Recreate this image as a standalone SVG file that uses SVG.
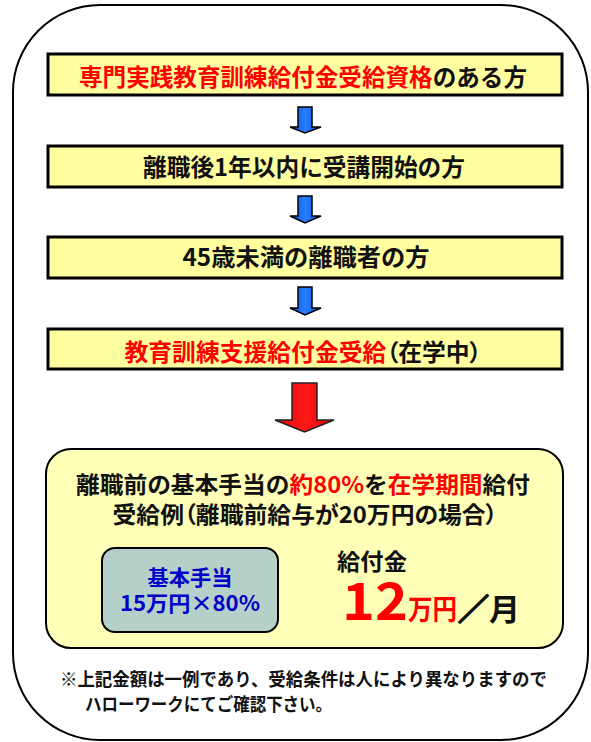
<svg xmlns="http://www.w3.org/2000/svg" width="591" height="742" viewBox="0 0 591 742">
<defs>
<style>
text{font-family:"Noto Sans CJK JP","Noto Sans CJK SC",sans-serif;font-weight:bold;fill:#111;}
.r{fill:#ff0000;}
.b{fill:#0000c8;}
.p{font-feature-settings:"palt";}
.step{fill:#ffffa0;stroke:#000;stroke-width:3;}
.barrow{fill:url(#bg);stroke:#000;stroke-width:1.5;stroke-linejoin:miter;}
.rarrow{fill:url(#rg);stroke:#222;stroke-width:1.5;}
</style>
<linearGradient id="bg" x1="0" y1="0" x2="1" y2="0">
<stop offset="0" stop-color="#0050e8"/><stop offset="0.5" stop-color="#2a7dff"/><stop offset="1" stop-color="#0050e8"/>
</linearGradient>
<linearGradient id="rg" x1="0" y1="0" x2="1" y2="0">
<stop offset="0" stop-color="#e00000"/><stop offset="0.5" stop-color="#ff1a1a"/><stop offset="1" stop-color="#e00000"/>
</linearGradient>
</defs>
<rect id="frame" x="13" y="5" width="575" height="735" rx="87" ry="87" fill="#fff" stroke="#000" stroke-width="2"/>
<g id="connectors">
<polygon class="barrow" points="298,107 312,107 312,127 321,127 305,133 290,127 298,127"/>
<polygon class="barrow" points="298,196 312,196 312,216 321,216 305,223 290,216 298,216"/>
<polygon class="barrow" points="298,287 312,287 312,308 321,308 305,315 290,308 298,308"/>
<polygon class="rarrow" points="292,383 317,383 317,420 334,420 304.5,432 275,420 292,420"/>
</g>
<g id="step1">
<rect class="step" x="48" y="54" width="514" height="41"/>
<text x="303" y="86" font-size="23.5" text-anchor="middle" textLength="448" lengthAdjust="spacingAndGlyphs"><tspan class="r">専門実践教育訓練給付金受給資格</tspan>のある方</text>
</g>
<g id="step2">
<rect class="step" x="48" y="146" width="514" height="41"/>
<text x="304" y="176" font-size="23.5" text-anchor="middle" textLength="322" lengthAdjust="spacingAndGlyphs">離職後1年以内に受講開始の方</text>
</g>
<g id="step3">
<rect class="step" x="48" y="237" width="514" height="41"/>
<text x="306" y="266" font-size="23.5" text-anchor="middle" textLength="247" lengthAdjust="spacingAndGlyphs">45歳未満の離職者の方</text>
</g>
<g id="step4">
<rect class="step" x="48" y="329" width="514" height="40"/>
<text class="p" x="303" y="361" font-size="23.5" text-anchor="middle" textLength="357" lengthAdjust="spacingAndGlyphs"><tspan class="r">教育訓練支援給付金受給</tspan>（在学中）</text>
</g>
<g id="result">
<rect x="46" y="449" width="517" height="199" rx="25" ry="25" fill="#ffffb8" stroke="#000" stroke-width="2"/>
<text x="303" y="493" font-size="23" text-anchor="middle" textLength="454" lengthAdjust="spacingAndGlyphs">離職前の基本手当の<tspan class="r">約80%</tspan>を<tspan class="r">在学期間</tspan>給付</text>
<text class="p" x="305" y="523" font-size="23" text-anchor="middle" textLength="385" lengthAdjust="spacingAndGlyphs">受給例（離職前給与が20万円の場合）</text>
<text x="337" y="570" font-size="23" textLength="70" lengthAdjust="spacingAndGlyphs">給付金</text>
<text x="342" y="620" font-size="52" class="r" textLength="66" lengthAdjust="spacingAndGlyphs">12</text>
<text x="408" y="620" font-size="28" class="r" textLength="49" lengthAdjust="spacingAndGlyphs">万円</text>
<text x="458" y="620" font-size="30" textLength="62" lengthAdjust="spacingAndGlyphs"><tspan stroke="#111" stroke-width="1.6">／</tspan>月</text>
</g>
<g id="basic">
<rect x="102" y="548" width="176" height="84" rx="13" ry="13" fill="#b4d0c8" stroke="#000" stroke-width="2"/>
<text class="b" x="190" y="585" font-size="21" text-anchor="middle" textLength="85" lengthAdjust="spacingAndGlyphs">基本手当</text>
<text class="b" x="190" y="611" font-size="21" text-anchor="middle" textLength="140" lengthAdjust="spacingAndGlyphs">15万円×80%</text>
</g>
<g id="note">
<text x="60" y="686" font-size="18" textLength="487" lengthAdjust="spacingAndGlyphs">※上記金額は一例であり、受給条件は人により異なりますので</text>
<text x="85" y="711" font-size="18" textLength="247" lengthAdjust="spacingAndGlyphs">ハローワークにてご確認下さい。</text>
</g>
</svg>
